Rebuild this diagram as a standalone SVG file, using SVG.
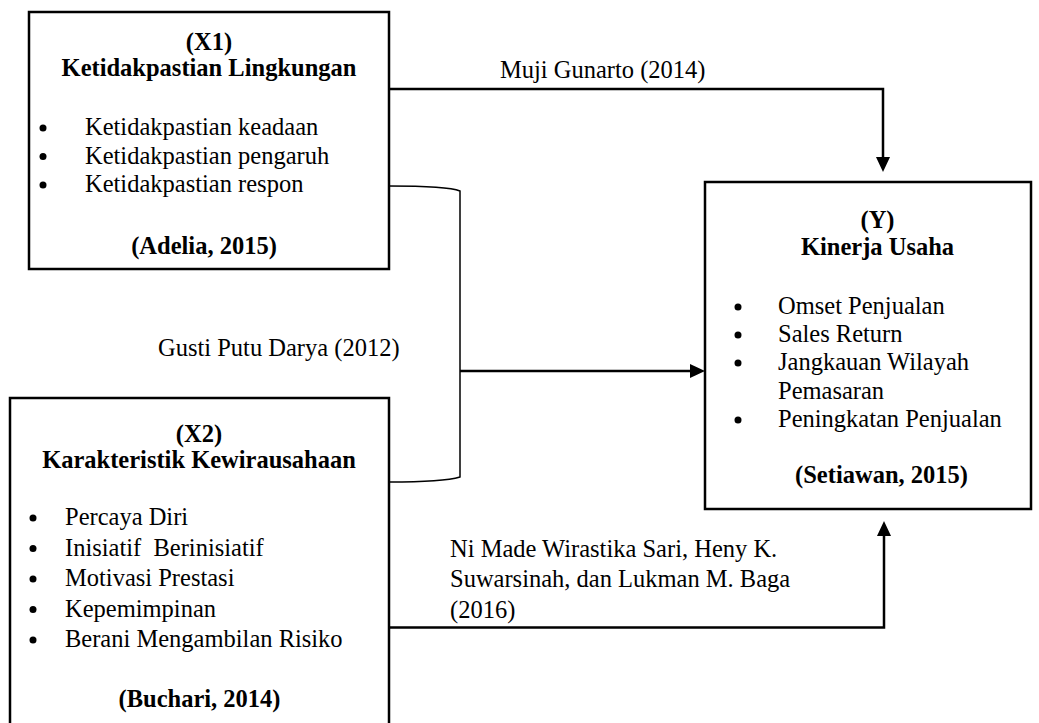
<svg xmlns="http://www.w3.org/2000/svg" width="1039" height="723" viewBox="0 0 1039 723">
<style>
  .box { fill: #fff; stroke: #000; stroke-width: 2.5; }
  .t { font-family: "Liberation Serif", "Times New Roman", serif; font-size: 24.5px; fill: #000; }
  .b { font-weight: bold; text-anchor: middle; }
  .dot { fill: #000; }
  .conn { fill: none; stroke: #000; stroke-width: 2.5; }
  .thin { fill: none; stroke: #000; stroke-width: 1.5; }
</style>
<defs>
  <marker id="arr" viewBox="0 0 15 14" refX="3" refY="7" markerWidth="15" markerHeight="14" markerUnits="userSpaceOnUse" orient="auto">
    <path d="M0,0 L15,7 L0,14 z" fill="#000"/>
  </marker>
</defs>
<rect width="1039" height="723" fill="#fff"/>

<g id="connectors">
  <path class="conn" d="M389,89 H883 V160" marker-end="url(#arr)"/>
  <path class="thin" d="M389,186 C420,186 450,187 460,191 V477 C450,480 420,482 389,482"/>
  <path class="conn" d="M460,371 H693" marker-end="url(#arr)"/>
  <path class="conn" d="M389,627.5 H884 V533" marker-end="url(#arr)"/>
  <text class="t" x="500" y="78">Muji Gunarto (2014)</text>
  <text class="t" x="158" y="356">Gusti Putu Darya (2012)</text>
  <text class="t" x="450" y="557">Ni Made Wirastika Sari, Heny K.</text>
  <text class="t" x="450" y="587">Suwarsinah, dan Lukman M. Baga</text>
  <text class="t" x="450" y="618">(2016)</text>
</g>

<g id="node-x1">
  <rect class="box" x="29" y="12" width="360" height="257"/>
  <text class="t b" x="209" y="50">(X1)</text>
  <text class="t b" x="209" y="76">Ketidakpastian Lingkungan</text>
  <circle class="dot" cx="43" cy="128" r="3.5"/>
  <circle class="dot" cx="43" cy="156.5" r="3.5"/>
  <circle class="dot" cx="43" cy="185" r="3.5"/>
  <text class="t" x="85" y="135">Ketidakpastian keadaan</text>
  <text class="t" x="85" y="163.5">Ketidakpastian pengaruh</text>
  <text class="t" x="85" y="192">Ketidakpastian respon</text>
  <text class="t b" x="204" y="254">(Adelia, 2015)</text>
</g>

<g id="node-x2">
  <rect class="box" x="10" y="398" width="379" height="340"/>
  <text class="t b" x="199" y="442">(X2)</text>
  <text class="t b" x="199" y="468">Karakteristik Kewirausahaan</text>
  <circle class="dot" cx="33" cy="518" r="3.5"/>
  <circle class="dot" cx="33" cy="548.5" r="3.5"/>
  <circle class="dot" cx="33" cy="579" r="3.5"/>
  <circle class="dot" cx="33" cy="609.5" r="3.5"/>
  <circle class="dot" cx="33" cy="640" r="3.5"/>
  <text class="t" x="65" y="525">Percaya Diri</text>
  <text class="t" x="65" y="555.5" xml:space="preserve">Inisiatif  Berinisiatif</text>
  <text class="t" x="65" y="586">Motivasi Prestasi</text>
  <text class="t" x="65" y="616.5">Kepemimpinan</text>
  <text class="t" x="65" y="647">Berani Mengambilan Risiko</text>
  <text class="t b" x="199.5" y="707">(Buchari, 2014)</text>
</g>

<g id="node-y">
  <rect class="box" x="705" y="182" width="326" height="327"/>
  <text class="t b" x="877.5" y="228">(Y)</text>
  <text class="t b" x="877.5" y="255">Kinerja Usaha</text>
  <circle class="dot" cx="738" cy="307" r="3.5"/>
  <circle class="dot" cx="738" cy="335" r="3.5"/>
  <circle class="dot" cx="738" cy="363" r="3.5"/>
  <circle class="dot" cx="738" cy="420" r="3.5"/>
  <text class="t" x="778" y="314">Omset Penjualan</text>
  <text class="t" x="778" y="342">Sales Return</text>
  <text class="t" x="778" y="370">Jangkauan Wilayah</text>
  <text class="t" x="778" y="399">Pemasaran</text>
  <text class="t" x="778" y="427">Peningkatan Penjualan</text>
  <text class="t b" x="881.5" y="483">(Setiawan, 2015)</text>
</g>
</svg>
